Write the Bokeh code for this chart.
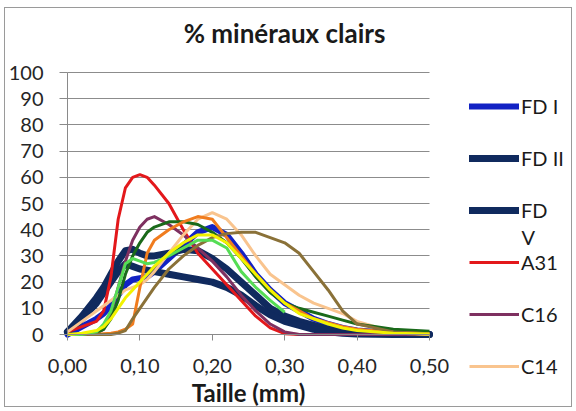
from bokeh.plotting import figure
from bokeh.models import Range1d, FixedTicker, CustomJSTickFormatter, Legend, LegendItem, Label
from bokeh.embed import file_html
from bokeh.resources import INLINE

# ---- data ----
x = [0, 0.02, 0.04, 0.05, 0.06, 0.07, 0.08, 0.09, 0.10, 0.11, 0.12, 0.14, 0.16, 0.18,
     0.20, 0.22, 0.24, 0.26, 0.28, 0.30, 0.32, 0.34, 0.36, 0.38, 0.40, 0.45, 0.50]

fd1 = [0, 3, 6, 8, 11, 15, 19, 21, 21.5, 22, 24, 29, 34, 39,
       41, 38, 31, 23, 17, 12, 9, 6, 4, 2.5, 1.5, 0.5, 0.2]
fd2 = [1, 7, 14, 18, 23, 28, 32, 32.5, 31, 30, 30, 31, 32.5, 32,
       29, 25, 20, 15, 10, 7, 5, 3.5, 2, 1.5, 1, 0.3, 0]
fd5 = [1, 6, 12, 16, 20, 24, 27, 26, 25, 24.5, 24, 23, 22, 21,
       20, 18, 15, 11, 7.5, 5, 3.5, 2, 1, 0.5, 0.2, 0, 0]
a31 = [1, 3, 5, 9, 22, 44, 56, 60, 61, 60, 57, 50, 40, 31,
       25, 19, 13, 7, 2.5, 0.3, 0, 0, 0, 0, 0, 0, 0]
c16 = [0, 0, 0.5, 2, 8, 18, 28, 36, 41, 44, 45, 42, 38, 33,
       28, 22, 15, 9, 4, 1, 0, 0, 0, 0, 0, 0, 0]
c14 = [1, 5, 9, 11, 13, 15, 17, 18, 19, 21, 24, 31, 38, 44,
       46.5, 44, 38, 30, 23, 19, 15, 12, 10, 8, 5, 1, 0]
s_dkgreen = [0, 0, 0.5, 2, 6, 13, 23, 30, 35, 39, 41, 43, 43, 42,
             39, 35, 29, 22, 16, 12, 10, 8.5, 7, 5.5, 4, 2, 1.2]
s_orange = [0, 0, 0, 0.3, 0.5, 1, 2, 4, 18, 31, 36, 40, 43, 45,
            44, 37, 30, 23, 17, 12, 9, 6, 4.5, 3, 2, 0.8, 0.3]
s_ltgreen = [0, 0, 1, 4, 9, 18, 27, 29, 28, 27, 27.5, 30, 33, 36,
             36, 33, 24, 18, 13, 8.5, None, None, None, None, None, None, None]
s_yellow = [0, 0.5, 1.5, 3, 6, 10, 14, 17, 20, 23, 26, 31, 35, 38,
            38, 35, 29, 23, 17, 12, 8, 6, 4, 2.5, 1.5, 0.5, 0.2]
s_brown = [0, 0, 0, 0, 0, 0.5, 1.5, 6, 10, 14, 18, 25, 30, 34,
           37, 38.5, 39, 39, 37, 35, 31, 24, 17, 9, 4, 1, 0.3]

x_ticks = [0, 0.1, 0.2, 0.3, 0.4, 0.5]
y_ticks = [0, 10, 20, 30, 40, 50, 60, 70, 80, 90, 100]

title_text = "% minéraux clairs"
x_label = "Taille (mm)"

FONT = "Lato"

# ---- layout (pixels) ----
W, H = 568, 400
ORG_X, ORG_Y = 5, 8           # page position of the canvas origin
B_LEFT, B_RIGHT, B_TOP, B_BOTTOM = 1, 5, 5, 0
PX_X0, PX_X1 = 62, 424        # canvas px of x = 0 and x = 0.5
PX_Y0, PX_Y1 = 326, 64        # canvas px of y = 0 and y = 100
fw = W - B_LEFT - B_RIGHT
fh = H - B_TOP - B_BOTTOM
kx = (x_ticks[-1] - x_ticks[0]) / (PX_X1 - PX_X0)
ky = (y_ticks[-1] - y_ticks[0]) / (PX_Y0 - PX_Y1)
x_start = x_ticks[0] - (PX_X0 - B_LEFT) * kx
x_end = x_start + fw * kx
y_start = y_ticks[0] - (H - B_BOTTOM - PX_Y0) * ky
y_end = y_start + fh * ky

def sx(page_x):
    return page_x - ORG_X - B_LEFT

def sy(page_y):
    return (ORG_Y + H - B_BOTTOM) - page_y

p = figure(width=W, height=H, output_backend="svg", toolbar_location=None,
           x_range=Range1d(x_start, x_end), y_range=Range1d(y_start, y_end),
           min_border_left=B_LEFT, min_border_right=B_RIGHT, min_border_top=B_TOP,
           min_border_bottom=B_BOTTOM)
p.styles = {"border": "1px solid #9a9a9a", "margin-left": "4px", "margin-top": "7px"}
p.outline_line_color = None
p.background_fill_color = "white"
p.border_fill_color = "white"

def nan(v):
    return [float("nan") if a is None else a for a in v]

r_fd1 = p.line(x, fd1, color="#1222C4", line_width=6, line_cap="round", line_join="round")
r_fd2 = p.line(x, fd2, color="#102A5E", line_width=7, line_cap="round", line_join="round")
r_fd5 = p.line(x, fd5, color="#102A5E", line_width=7, line_cap="round", line_join="round")
r_a31 = p.line(x, a31, color="#E3181B", line_width=3, line_join="round")
r_c16 = p.line(x, c16, color="#7E3060", line_width=3, line_join="round")
r_c14 = p.line(x, c14, color="#F9C48E", line_width=3, line_join="round")
p.line(x, s_dkgreen, color="#1A6A1A", line_width=3, line_join="round")
p.line(x, s_orange, color="#F07C1E", line_width=3, line_join="round")
p.line(x, s_brown, color="#8A7138", line_width=3, line_join="round")
p.line(x, nan(s_ltgreen), color="#55DD55", line_width=3, line_join="round")
p.line(x, s_yellow, color="#F2F200", line_width=3, line_join="round")

# axes (drawn at x = 0 / y = 0 inside the frame)
p.xaxis.ticker = FixedTicker(ticks=x_ticks)
p.yaxis.ticker = FixedTicker(ticks=y_ticks)
p.xaxis.formatter = CustomJSTickFormatter(code="return tick.toFixed(2).replace('.', ',');")
p.xaxis.bounds = (x_ticks[0], x_ticks[-1])
p.yaxis.bounds = (y_ticks[0], y_ticks[-1])
p.xaxis.fixed_location = y_ticks[0]
p.yaxis.fixed_location = x_ticks[0]
for ax in (p.xaxis[0], p.yaxis[0]):
    ax.axis_line_color = "#8a8a8a"
    ax.major_tick_line_color = "#8a8a8a"
    ax.minor_tick_line_color = None
    ax.major_tick_in = 0
    ax.major_label_text_font = FONT
    ax.major_label_text_font_size = "20px"
    ax.major_label_text_color = "#262626"
p.yaxis.major_tick_out = 8
p.yaxis.major_label_standoff = 16
p.xaxis.major_tick_out = 6
p.xaxis.major_label_standoff = 18
p.xaxis.axis_label = x_label
p.xaxis.axis_label_text_font = FONT
p.xaxis.axis_label_text_font_style = "bold"
p.xaxis.axis_label_text_font_size = "24px"
p.xaxis.axis_label_text_color = "#1a1a1a"
p.xaxis.axis_label_standoff = 2

p.xgrid.grid_line_color = None
p.ygrid.grid_line_color = "#8c8c8c"
p.ygrid.grid_line_width = 1
p.ygrid.cross_bounds = (x_ticks[0], x_ticks[-1])

# title
p.add_layout(Label(x=sx(284), y=sy(32), x_units="screen", y_units="screen", text=title_text,
                   text_align="center", text_baseline="middle", text_font=FONT,
                   text_font_style="bold", text_font_size="26px", text_color="#1a1a1a"))

legend = Legend(items=[
    LegendItem(label="FD I", renderers=[r_fd1]),
    LegendItem(label="FD II", renderers=[r_fd2]),
    LegendItem(label="FD", renderers=[r_fd5]),
    LegendItem(label="A31", renderers=[r_a31]),
    LegendItem(label="C16", renderers=[r_c16]),
    LegendItem(label="C14", renderers=[r_c14]),
], location=(sx(469), sy(378)), orientation="vertical", padding=0, margin=0,
    spacing=28, glyph_width=50, glyph_height=20, label_height=20, label_standoff=2,
    label_text_font=FONT, label_text_font_size="20px", label_text_color="#1a1a1a",
    border_line_color=None, background_fill_alpha=0)
p.add_layout(legend, "center")
p.add_layout(Label(x=sx(521), y=sy(236), x_units="screen", y_units="screen", text="V",
                   text_align="left", text_baseline="middle", text_font=FONT,
                   text_font_size="20px", text_color="#1a1a1a"))

open("out.html", "w").write(file_html(p, INLINE))
